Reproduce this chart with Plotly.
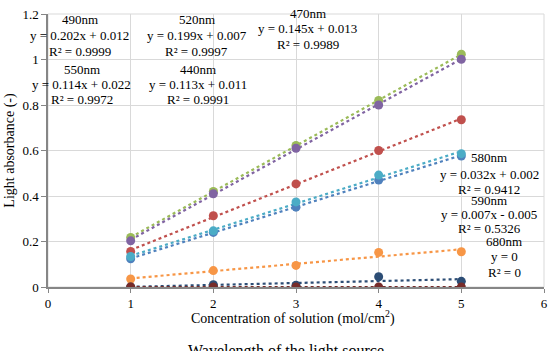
import numpy as np
import plotly.graph_objects as go

# ---------------- data ----------------
concentration = [1, 2, 3, 4, 5]
wavelengths = ["440nm", "470nm", "490nm", "520nm", "550nm", "580nm", "590nm", "680nm"]
abs_440 = [0.124, 0.240, 0.351, 0.470, 0.576]
abs_470 = [0.156, 0.313, 0.453, 0.600, 0.735]
abs_490 = [0.218, 0.420, 0.622, 0.820, 1.023]
abs_520 = [0.203, 0.410, 0.610, 0.800, 1.001]
abs_550 = [0.134, 0.247, 0.374, 0.492, 0.586]
abs_580 = [0.035, 0.072, 0.095, 0.152, 0.155]
abs_590 = [0.000, 0.010, 0.008, 0.045, 0.025]
abs_680 = [0.000, 0.000, 0.000, 0.000, 0.000]
series = [abs_440, abs_470, abs_490, abs_520, abs_550, abs_580, abs_590, abs_680]
colors = ["#4F81BD", "#C0504D", "#9BBB59", "#8064A2", "#4BACC6", "#F79646", "#2C4D75", "#772C2A"]

# trendline labels (as printed on the chart)
label_names = ["490nm", "520nm", "470nm", "550nm", "440nm", "580nm", "590nm", "680nm"]
label_eqs = ["y = 0.202x + 0.012", "y = 0.199x + 0.007", "y = 0.145x + 0.013",
             "y = 0.114x + 0.022", "y = 0.113x + 0.011", "y = 0.032x + 0.002",
             "y = 0.007x - 0.005", "y = 0"]
label_r2 = ["R² = 0.9999", "R² = 0.9997", "R² = 0.9989", "R² = 0.9972",
            "R² = 0.9991", "R² = 0.9412", "R² = 0.5326", "R² = 0"]
# label block placement (pixel centre x, pixel y of each of the three lines)
label_cx = [80, 198, 310, 82, 199, 493, 493, 508]
label_ys = [(16, 32, 48), (16, 32, 48), (9, 25, 41), (66, 81.5, 97), (66, 81.5, 97),
            (156, 172.5, 188), (199, 213.5, 228), (241, 256.5, 272.5)]

W, H = 555, 351
ML, MR, MT, MB = 48, 7, 10, 64
PW, PH = W - ML - MR, H - MT - MB

def px(x):
    return (x - ML) / PW

def py(y):
    return (H - MB - y) / PH

FONT = "Liberation Serif"

fig = go.Figure()
xs = np.array(concentration, dtype=float)
for name, ys, col in zip(wavelengths, series, colors):
    k, b = np.polyfit(xs, np.array(ys), 1)
    xl = np.array([xs.min(), xs.max()])
    fig.add_trace(go.Scatter(x=xl, y=k * xl + b, mode="lines",
                             line=dict(color=col, width=2.2, dash="dot"),
                             showlegend=False, hoverinfo="skip"))
for name, ys, col in zip(wavelengths, series, colors):
    fig.add_trace(go.Scatter(x=concentration, y=ys, mode="markers", name=name,
                             marker=dict(color=col, size=9), showlegend=False))

annotations = []
for nm, eq, r2, cx, yl in zip(label_names, label_eqs, label_r2, label_cx, label_ys):
    for txt, yy in zip((nm, eq, r2), yl):
        annotations.append(dict(text=txt, x=px(cx), y=py(yy), xref="paper", yref="paper",
                                xanchor="center", yanchor="middle", showarrow=False,
                                font=dict(family=FONT, size=13, color="#000000")))
annotations.append(dict(text="Concentration of solution (mol/cm<sup>2</sup>)",
                        x=px(295), y=py(318), xref="paper", yref="paper",
                        xanchor="center", yanchor="middle", showarrow=False,
                        font=dict(family=FONT, size=14, color="#000000")))
annotations.append(dict(text="Wavelength of the light source", x=px(288), y=py(352),
                        xref="paper", yref="paper", xanchor="center", yanchor="middle",
                        showarrow=False, font=dict(family=FONT, size=16, color="#000000")))

fig.update_layout(
    width=W, height=H,
    margin=dict(l=ML, r=MR, t=MT, b=MB),
    paper_bgcolor="white", plot_bgcolor="white",
    font=dict(family=FONT, size=13, color="#000000"),
    annotations=annotations,
    xaxis=dict(range=[0, 6], dtick=1, tick0=0, showgrid=True, gridcolor="#D9D9D9",
               showline=True, linecolor="#868686", linewidth=1.5, zeroline=False,
               ticks="outside", ticklen=4, tickcolor="#868686",
               tickfont=dict(family=FONT, size=13)),
    yaxis=dict(range=[0, 1.2], dtick=0.2, tick0=0, showgrid=True, gridcolor="#D9D9D9",
               showline=True, linecolor="#868686", linewidth=1.5, zeroline=False,
               ticks="outside", ticklen=5, tickcolor="#868686",
               tickfont=dict(family=FONT, size=13),
               title=dict(text="Light absorbance (-)", font=dict(family=FONT, size=14),
                          standoff=5)),
)
# light border on top/right
fig.add_shape(type="rect", xref="paper", yref="paper", x0=0, y0=0, x1=1, y1=1,
              line=dict(color="#D9D9D9", width=1), layer="below")

fig.write_html("out.html")
